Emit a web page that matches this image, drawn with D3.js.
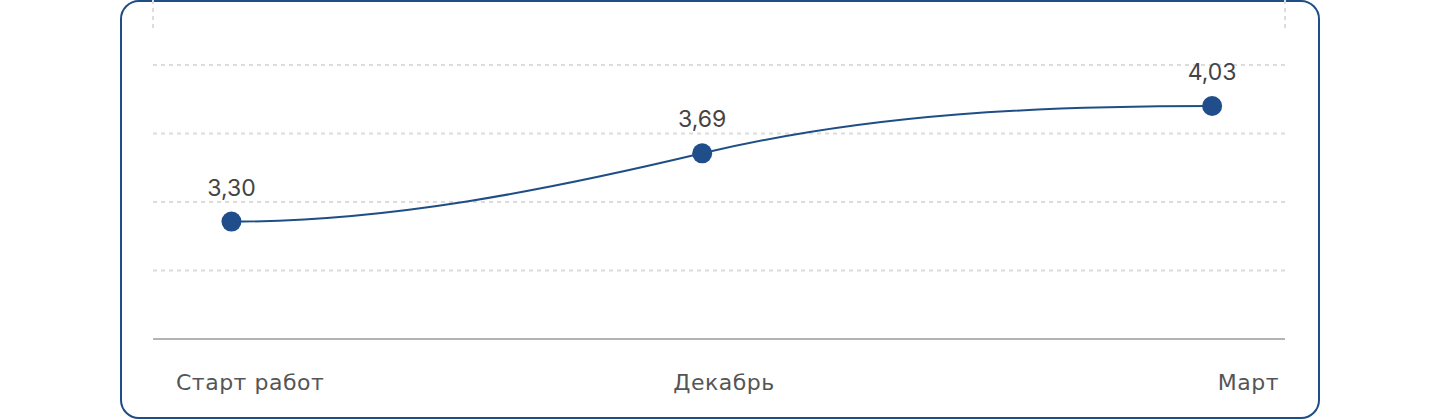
<!DOCTYPE html>
<html>
<head>
<meta charset="utf-8">
<title>Динамика показателя</title>
<style type="text/css">
html, body{ margin: 0; padding: 0; background: #fff; }
svg{ display: block; }
.grid line{ stroke: #dcdcdc; stroke-width: 2; stroke-dasharray: 4 4; }
.baseline{ stroke: #b4b4b4; stroke-width: 2; }
.value{ font-family: Inter, "Noto Sans", sans-serif; font-size: 23px; fill: #444; }
.cat{ font-family: "DejaVu Sans", "Noto Sans", sans-serif; font-size: 22px; letter-spacing: 0.5px; fill: #555; }
</style>
<script type="text/javascript" src="https://cdn.jsdelivr.net/npm/d3@7"></script>
</head>
<body>
<script>
// data
var categories = ["Старт работ", "Декабрь", "Март"];
var dates = ["2023-09-08", "2023-12-01", "2024-03-01"];
var values = [3.30, 3.69, 4.03];
var xDomain = ["2023-08-25", "2024-03-14"];
var yDomain = [2.81, 4.39];

const width = 1440, height = 420;
const plotLeft = 153, plotRight = 1285, plotTop = 65, plotBottom = 339;

var parse = d3.timeParse("%Y-%m-%d");
var data = dates.map(function(d, i){
  return {date: parse(d), value: values[i], label: categories[i]};
});

var fmt = d3.formatLocale({decimal: ",", thousands: " ", grouping: [3], currency: ["", ""]}).format(".2f");

// smooth S-shaped curve: flat at both ends, inner tangents = sum of neighbouring secants
function SmoothCurve(context){ this._context = context; }
SmoothCurve.prototype = {
  areaStart: function(){ this._line = 0; },
  areaEnd: function(){ this._line = NaN; },
  lineStart: function(){ this._x = []; this._y = []; },
  point: function(x, y){ this._x.push(+x); this._y.push(+y); },
  lineEnd: function(){
    var x = this._x, y = this._y, n = x.length, c = this._context;
    if (!n) return;
    var sec = [], m = [];
    for (var i = 0; i < n - 1; i++) sec[i] = (y[i+1] - y[i]) / (x[i+1] - x[i]);
    for (var k = 0; k < n; k++) m[k] = (k == 0 || k == n - 1) ? 0 : sec[k-1] + sec[k];
    c.moveTo(x[0], y[0]);
    for (var j = 1; j < n; j++) {
      var h = (x[j] - x[j-1]) / 3;
      c.bezierCurveTo(x[j-1] + h, y[j-1] + m[j-1] * h, x[j] - h, y[j] - m[j] * h, x[j], y[j]);
    }
  }
};
function curveSmooth(context){ return new SmoothCurve(context); }

const svg = d3.select("body").append("svg").attr("width", width).attr("height", height);

// card frame
svg.append("rect")
  .attr("x", 121).attr("y", 1).attr("width", 1198).attr("height", 417)
  .attr("rx", 18).attr("ry", 18)
  .attr("fill", "#fff").attr("stroke", "#1f4e86").attr("stroke-width", 2);

const xScale = d3.scaleTime().domain(xDomain.map(parse)).range([plotLeft, plotRight]);
// the original's vertical spacing is not linear in the values; a power scale reproduces it
const yScale = d3.scalePow().exponent(-1.3).domain(yDomain).range([plotBottom, plotTop]);

// dashed grid, evenly spaced over the plot height
var gridVals = d3.range(1, 5).map(function(i){ return yScale.invert(plotBottom - i * (plotBottom - plotTop) / 4); });
const grid = svg.append("g").attr("class", "grid");
grid.selectAll("line.h").data(gridVals).enter().append("line")
  .attr("class", "h")
  .attr("x1", plotLeft).attr("x2", plotRight)
  .attr("y1", d => yScale(d)).attr("y2", d => yScale(d));
// vertical edges peeking above the top
grid.selectAll("line.v").data(xScale.domain()).enter().append("line")
  .attr("class", "v")
  .attr("x1", d => xScale(d)).attr("x2", d => xScale(d))
  .attr("y1", 0).attr("y2", 31);

svg.append("line").attr("class", "baseline")
  .attr("x1", plotLeft).attr("x2", plotRight)
  .attr("y1", yScale(yDomain[0])).attr("y2", yScale(yDomain[0]));

// line
const lineGen = d3.line().x(d => xScale(d.date)).y(d => yScale(d.value)).curve(curveSmooth);
svg.append("path").datum(data).attr("d", lineGen)
  .attr("fill", "none").attr("stroke", "#1f4e86").attr("stroke-width", 2);

svg.selectAll("circle.pt").data(data).enter().append("circle")
  .attr("class", "pt")
  .attr("cx", d => xScale(d.date)).attr("cy", d => yScale(d.value))
  .attr("r", 10).attr("fill", "#1f4e8a");

svg.selectAll("text.value").data(data).enter().append("text")
  .attr("class", "value")
  .attr("text-anchor", "middle")
  .attr("x", d => xScale(d.date)).attr("y", d => yScale(d.value) - 26)
  .text(d => fmt(d.value));

// category labels sit in a row under the plot: first left, middle centred, last right
var anchors = ["start", "middle", "end"];
svg.selectAll("text.cat").data(data).enter().append("text")
  .attr("class", "cat")
  .attr("text-anchor", (d, i) => anchors[i])
  .attr("x", function(d, i){
    if (i == 0) return plotLeft + 23;
    if (i == data.length - 1) return plotRight - 6;
    return (plotLeft + plotRight) / 2 + 5;
  })
  .attr("y", 390)
  .text(d => d.label);
</script>
</body>
</html>
